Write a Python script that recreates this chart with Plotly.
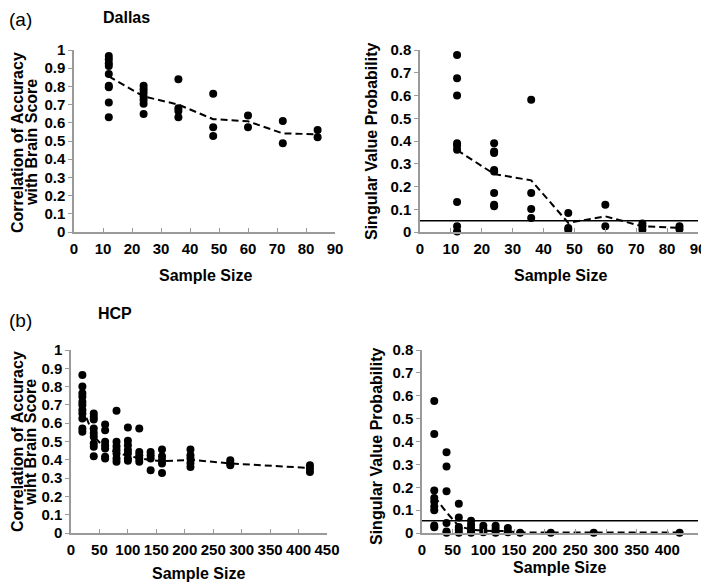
import plotly.graph_objects as go

# page window size and default body margin of the HTML page
WIN_W, WIN_H = 709, 584
OFF = 8
W, H = WIN_W - OFF, WIN_H - OFF

# ---------------- data ----------------
dallas_sizes = [12, 24, 36, 48, 60, 72, 84]

dallas_corr_x = [12]*9 + [24]*7 + [36]*4 + [48]*3 + [60]*2 + [72]*2 + [84]*2
dallas_corr_y = [0.967, 0.949, 0.927, 0.912, 0.868, 0.803, 0.795, 0.711, 0.631,
                 0.803, 0.784, 0.766, 0.744, 0.726, 0.704, 0.649,
                 0.839, 0.680, 0.665, 0.631,
                 0.759, 0.576, 0.528,
                 0.640, 0.576,
                 0.610, 0.488,
                 0.561, 0.521]
dallas_corr_mean = [0.855, 0.745, 0.700, 0.620, 0.608, 0.542, 0.537]

dallas_svp_x = [12]*9 + [24]*8 + [36]*4 + [48]*3 + [60]*2 + [72]*3 + [84]*2
dallas_svp_y = [0.778, 0.676, 0.600, 0.390, 0.379, 0.361, 0.132, 0.025, 0.002,
                0.390, 0.354, 0.347, 0.273, 0.266, 0.171, 0.120, 0.113,
                0.581, 0.171, 0.101, 0.061,
                0.083, 0.018, 0.010,
                0.120, 0.025,
                0.037, 0.025, 0.010,
                0.025, 0.012]
dallas_svp_mean = [0.360, 0.255, 0.227, 0.040, 0.069, 0.025, 0.018]

hcp_sizes = [20, 40, 60, 80, 100, 120, 140, 160, 210, 280, 420]

hcp_corr_x = ([20]*11 + [40]*9 + [60]*7 + [80]*7 + [100]*7 + [120]*5 +
              [140]*4 + [160]*5 + [210]*5 + [280]*3 + [420]*3)
hcp_corr_y = [0.863, 0.800, 0.763, 0.745, 0.717, 0.700, 0.672, 0.653, 0.626, 0.571, 0.553,
              0.653, 0.635, 0.620, 0.571, 0.547, 0.526, 0.489, 0.471, 0.420,
              0.593, 0.562, 0.498, 0.480, 0.462, 0.416, 0.407,
              0.668, 0.498, 0.474, 0.453, 0.434, 0.407, 0.389,
              0.577, 0.504, 0.480, 0.453, 0.434, 0.407, 0.395,
              0.571, 0.443, 0.425, 0.407, 0.389,
              0.443, 0.425, 0.407, 0.343,
              0.456, 0.420, 0.398, 0.380, 0.328,
              0.456, 0.425, 0.407, 0.383, 0.361,
              0.398, 0.383, 0.370,
              0.370, 0.352, 0.334]
hcp_corr_mean = [0.685, 0.530, 0.462, 0.440, 0.420, 0.410, 0.398, 0.392, 0.400, 0.380, 0.355]

hcp_svp_x = ([20]*9 + [40]*6 + [60]*5 + [80]*5 + [100]*3 + [120]*3 + [140]*2 +
             [160] + [210] + [280] + [420])
hcp_svp_y = [0.577, 0.433, 0.186, 0.153, 0.138, 0.116, 0.099, 0.033, 0.025,
             0.353, 0.291, 0.182, 0.044, 0.007, 0.001,
             0.128, 0.068, 0.026, 0.015, 0.001,
             0.054, 0.036, 0.022, 0.007, 0.001,
             0.032, 0.017, 0.003,
             0.032, 0.017, 0.001,
             0.022, 0.003,
             0.001, 0.001, 0.001, 0.001]
hcp_svp_mean = [0.160, 0.090, 0.030, 0.015, 0.010, 0.010, 0.008, 0.002, 0.002, 0.002, 0.002]

dallas_threshold = 0.05
hcp_threshold = 0.054

# ---------------- figure ----------------
fig = go.Figure()

def px_x(p):
    return (p - OFF) / W

def px_y(p):
    return 1 - (p - OFF) / H

panels = [
    ("1", (74, 335), (50, 232), [0, 90], [0, 1], 10, 0.1),
    ("2", (420, 698), (50, 232), [0, 90], [0, 0.8], 10, 0.1),
    ("3", (71, 327), (350, 533), [0, 450], [0, 1], 50, 0.1),
    ("4", (422, 698), (350, 533), [0, 450], [0, 0.8], 50, 0.1),
]

FAM = "Liberation Sans, Arial, sans-serif"
tickfont = dict(family=FAM, size=15, color="black", weight="bold")
axis_color = "#9a9a9a"

for name, xd, yd, xr, yr, dx, dy in panels:
    xk = "xaxis" if name == "1" else f"xaxis{name}"
    yk = "yaxis" if name == "1" else f"yaxis{name}"
    xa = "x" if name == "1" else f"x{name}"
    ya = "y" if name == "1" else f"y{name}"
    fig.layout[xk] = dict(domain=[px_x(xd[0]), px_x(xd[1])], range=xr, dtick=dx, tick0=0,
                          anchor=ya, showgrid=False, zeroline=False, showline=True,
                          linecolor=axis_color, linewidth=1.5, ticks="inside", ticklen=4,
                          tickcolor=axis_color, tickfont=tickfont, fixedrange=True,
                          automargin=False, ticklabelstandoff=2)
    fig.layout[yk] = dict(domain=[px_y(yd[1]), px_y(yd[0])], range=yr, dtick=dy, tick0=0,
                          anchor=xa, showgrid=False, zeroline=False, showline=True,
                          linecolor=axis_color, linewidth=1.5, ticks="outside", ticklen=4,
                          tickcolor=axis_color, tickfont=tickfont, fixedrange=True,
                          automargin=False)

marker = dict(color="black", size=8)
dash_line = dict(color="black", width=2, dash="7px,4px")

def add_panel(xs, ys, sizes, means, xa, ya):
    fig.add_trace(go.Scatter(x=xs, y=ys, mode="markers", marker=marker,
                             xaxis=xa, yaxis=ya, cliponaxis=False, showlegend=False))
    fig.add_trace(go.Scatter(x=sizes, y=means, mode="lines", line=dash_line,
                             xaxis=xa, yaxis=ya, showlegend=False))

add_panel(dallas_corr_x, dallas_corr_y, dallas_sizes, dallas_corr_mean, "x", "y")
add_panel(dallas_svp_x, dallas_svp_y, dallas_sizes, dallas_svp_mean, "x2", "y2")
add_panel(hcp_corr_x, hcp_corr_y, hcp_sizes, hcp_corr_mean, "x3", "y3")
add_panel(hcp_svp_x, hcp_svp_y, hcp_sizes, hcp_svp_mean, "x4", "y4")

fig.add_shape(type="line", xref="x2 domain", yref="y2", x0=0, x1=1,
              y0=dallas_threshold, y1=dallas_threshold, line=dict(color="black", width=1.5))
fig.add_shape(type="line", xref="x4 domain", yref="y4", x0=0, x1=1,
              y0=hcp_threshold, y1=hcp_threshold, line=dict(color="black", width=1.5))

bold = dict(family=FAM, size=16, color="black", weight="bold")
normal = dict(family=FAM, size=19, color="black")

def ann(text, x, y, font, angle=0, xanchor="center", yanchor="middle"):
    fig.add_annotation(text=text, x=px_x(x), y=px_y(y), xref="paper", yref="paper",
                       xanchor=xanchor, yanchor=yanchor, showarrow=False,
                       font=font, textangle=angle, borderpad=0)

# top labels: anchored at the very top of the figure so they stay inside it
ann("(a)", 8, 8, normal, xanchor="left", yanchor="top")
ann("Dallas", 126, 8, bold, yanchor="top")
ann("(b)", 8, 320, normal, xanchor="left")
ann("HCP", 115, 313, bold)

ann("Correlation of Accuracy", 17, 143, bold, -90)
ann("with Brain Score", 31, 143, bold, -90)
ann("Singular Value Probability", 372, 142, bold, -90)
ann("Correlation of Accuracy", 17, 442, bold, -90)
ann("wiht Brain Score", 30, 443, bold, -90)
ann("Singular Value Probability", 376, 447, bold, -90)

ann("Sample Size", 205, 275, bold)
ann("Sample Size", 560, 275, bold)
ann("Sample Size", 199, 573, bold)
ann("Sample Size", 559, 567, bold)

fig.update_layout(width=W, height=H,
                  margin=dict(l=0, r=0, t=0, b=0, pad=0, autoexpand=False),
                  paper_bgcolor="white", plot_bgcolor="white",
                  font=dict(family=FAM, color="black"))

fig.write_html("out.html")
